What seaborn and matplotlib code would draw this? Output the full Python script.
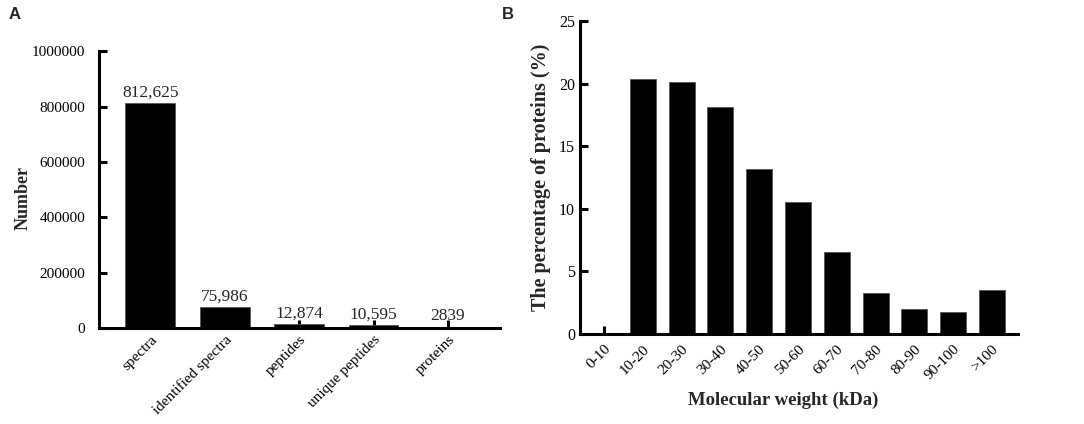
import matplotlib
matplotlib.use('Agg')
import matplotlib.pyplot as plt
import seaborn as sns

#-----------------------------------------------------------------------
# 데이터
#-----------------------------------------------------------------------
id_cats = ['spectra', 'identified spectra', 'peptides', 'unique peptides', 'proteins']
id_counts = [812625, 75986, 12874, 10595, 2839]
id_labels = ['812,625', '75,986', '12,874', '10,595', '2839']
count_ticks = [0, 200000, 400000, 600000, 800000, 1000000]

mw_cats = ['0-10', '10-20', '20-30', '30-40', '40-50', '50-60',
           '60-70', '70-80', '80-90', '90-100', '>100']
mw_pct = [0.0, 20.35, 20.11, 18.12, 13.2, 10.52, 6.56, 3.27, 1.99, 1.78, 3.53]
pct_ticks = [0, 5, 10, 15, 20, 25]

sns.set_style('ticks')
plt.rcParams['font.family'] = ['Liberation Serif', 'DejaVu Serif']

fig = plt.figure(figsize=(10.84, 4.24), dpi=100)

def style_axis(ax):
    sns.despine(ax=ax)
    for s in ['left', 'bottom']:
        ax.spines[s].set_linewidth(2.2)
        ax.spines[s].set_color('black')
    ax.tick_params(direction='in', width=2.2, length=6, colors='black')

#-----------------------------------------------------------------------
# A : 동정 결과 막대 그래프
#-----------------------------------------------------------------------
ax1 = fig.add_axes([0.0913, 0.2264, 0.370, 0.653])
sns.barplot(x=id_cats, y=id_counts, color='black', saturation=1, width=0.67,
            edgecolor='#555555', linewidth=0.6, ax=ax1)
ax1.bar_label(ax1.containers[0], labels=id_labels, padding=2, fontsize=12.5)
ax1.set_ylim(0, 1000000)
ax1.set_xlim(-0.69, 4.7)
ax1.set_yticks(count_ticks)
ax1.set_yticklabels([str(t) for t in count_ticks], fontsize=11)
ax1.set_xticks(range(len(id_cats)))
ax1.set_xticklabels(id_cats, rotation=45, ha='right', rotation_mode='anchor', fontsize=11)
ax1.set_ylabel('Number', fontsize=13, fontweight='bold')
ax1.yaxis.set_label_coords(-0.167, 0.47)
style_axis(ax1)
ax1.tick_params(axis='y', pad=10)

#-----------------------------------------------------------------------
# B : 분자량 분포
#-----------------------------------------------------------------------
ax2 = fig.add_axes([0.535, 0.2123, 0.404, 0.738])
sns.barplot(x=mw_cats, y=mw_pct, color='black', saturation=1, width=0.67,
            edgecolor='#555555', linewidth=0.6, ax=ax2)
ax2.set_ylim(0, 25)
ax2.set_xlim(-0.62, 10.67)
ax2.set_yticks(pct_ticks)
ax2.set_yticklabels([str(t) for t in pct_ticks], fontsize=11.5)
ax2.set_xticks(range(len(mw_cats)))
ax2.set_xticklabels(mw_cats, rotation=45, ha='right', rotation_mode='anchor', fontsize=11)
ax2.set_ylabel('The percentage of proteins (%)', fontsize=14.5, fontweight='bold', labelpad=6)
ax2.set_xlabel('Molecular weight (kDa)', fontsize=13.5, fontweight='bold')
ax2.xaxis.set_label_coords(0.463, -0.183)
style_axis(ax2)
ax2.tick_params(axis='x', pad=6)

fig.text(0.008, 0.965, 'A', fontsize=12, fontweight='bold', family=['Liberation Sans', 'DejaVu Sans'], va='center')
fig.text(0.463, 0.965, 'B', fontsize=12, fontweight='bold', family=['Liberation Sans', 'DejaVu Sans'], va='center')

plt.savefig('out.png', dpi=100)
